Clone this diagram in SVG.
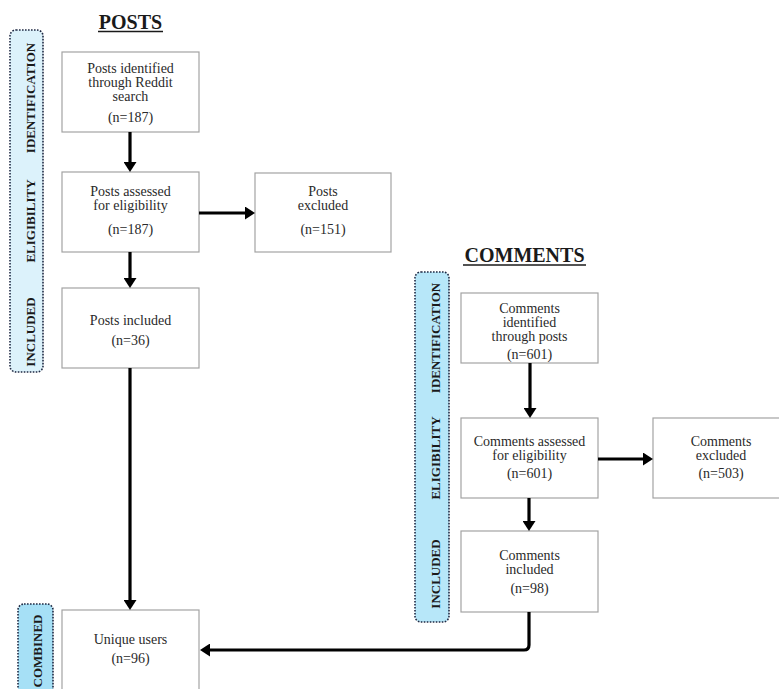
<svg xmlns="http://www.w3.org/2000/svg" width="779" height="689" viewBox="0 0 779 689">
<style>
.bg{fill:#ffffff}
.box{fill:#ffffff;stroke:#a3a3a3;stroke-width:1.2}
.band{stroke:#1f2a44;stroke-width:1.6;stroke-dasharray:1.6 1.4}
.t{font-family:"Liberation Serif","Times New Roman",serif;font-size:14px;fill:#2a2a2a;text-anchor:middle}
.lab{font-family:"Liberation Serif","Times New Roman",serif;font-size:13px;font-weight:bold;fill:#1a1a1a;text-anchor:middle}
.title{font-family:"Liberation Serif","Times New Roman",serif;font-size:20px;font-weight:bold;fill:#1a1a1a;text-anchor:middle}
.ul{stroke:#1a1a1a;stroke-width:1.5}
.con{fill:none;stroke:#000;stroke-width:3.2}
</style>
<defs>
<marker id="ah" viewBox="0 0 10 13" refX="3" refY="6.5" markerWidth="10" markerHeight="13" markerUnits="userSpaceOnUse" orient="auto">
<path d="M0,0 L10,6.5 L0,13 z" fill="#000"/>
</marker>
</defs>
<rect class="bg" x="0" y="0" width="779" height="689"/>

<g id="title-posts">
<text class="title" x="130.5" y="29">POSTS</text>
<line class="ul" x1="98" y1="31.5" x2="163" y2="31.5"/>
</g>
<g id="title-comments">
<text class="title" x="524.5" y="262">COMMENTS</text>
<line class="ul" x1="463" y1="265" x2="586" y2="265"/>
</g>

<g id="band-posts">
<rect class="band" x="10" y="30" width="33" height="342" rx="6" fill="#dcf2fb"/>
<text class="lab" transform="translate(35,98) rotate(-90)">IDENTIFICATION</text>
<text class="lab" transform="translate(35,221) rotate(-90)">ELIGIBILITY</text>
<text class="lab" transform="translate(35,332) rotate(-90)">INCLUDED</text>
</g>
<g id="band-comments">
<rect class="band" x="415" y="272" width="34" height="350" rx="6" fill="#b7e7f9"/>
<text class="lab" transform="translate(440,338) rotate(-90)">IDENTIFICATION</text>
<text class="lab" transform="translate(440,458) rotate(-90)">ELIGIBILITY</text>
<text class="lab" transform="translate(440,574) rotate(-90)">INCLUDED</text>
</g>
<g id="band-combined">
<rect class="band" x="18" y="604" width="35" height="110" rx="6" fill="#a6e0f6"/>
<text class="lab" transform="translate(42,651) rotate(-90)">COMBINED</text>
</g>

<g id="posts-identified">
<rect class="box" x="62" y="52" width="137" height="80"/>
<text class="t" x="130.5" y="73">Posts identified</text>
<text class="t" x="130.5" y="87">through Reddit</text>
<text class="t" x="130.5" y="101">search</text>
<text class="t" x="130.5" y="122">(n=187)</text>
</g>
<g id="posts-assessed">
<rect class="box" x="62" y="172" width="137" height="80"/>
<text class="t" x="130.5" y="196">Posts assessed</text>
<text class="t" x="130.5" y="210">for eligibility</text>
<text class="t" x="130.5" y="234">(n=187)</text>
</g>
<g id="posts-excluded">
<rect class="box" x="255" y="173" width="136" height="79"/>
<text class="t" x="323" y="196">Posts</text>
<text class="t" x="323" y="210">excluded</text>
<text class="t" x="323" y="234">(n=151)</text>
</g>
<g id="posts-included">
<rect class="box" x="62" y="288" width="137" height="80"/>
<text class="t" x="130.5" y="325">Posts included</text>
<text class="t" x="130.5" y="345">(n=36)</text>
</g>
<g id="unique-users">
<rect class="box" x="62" y="610" width="137" height="100"/>
<text class="t" x="130.5" y="644">Unique users</text>
<text class="t" x="130.5" y="663">(n=96)</text>
</g>

<g id="comments-identified">
<rect class="box" x="461" y="293" width="137" height="70"/>
<text class="t" x="529.5" y="313">Comments</text>
<text class="t" x="529.5" y="327">identified</text>
<text class="t" x="529.5" y="341">through posts</text>
<text class="t" x="529.5" y="359">(n=601)</text>
</g>
<g id="comments-assessed">
<rect class="box" x="461" y="418" width="137" height="80"/>
<text class="t" x="529.5" y="446">Comments assessed</text>
<text class="t" x="529.5" y="460">for eligibility</text>
<text class="t" x="529.5" y="478">(n=601)</text>
</g>
<g id="comments-excluded">
<rect class="box" x="653" y="418" width="136" height="80"/>
<text class="t" x="721" y="446">Comments</text>
<text class="t" x="721" y="460">excluded</text>
<text class="t" x="721" y="478">(n=503)</text>
</g>
<g id="comments-included">
<rect class="box" x="461" y="531" width="137" height="81"/>
<text class="t" x="529.5" y="560">Comments</text>
<text class="t" x="529.5" y="574">included</text>
<text class="t" x="529.5" y="593">(n=98)</text>
</g>

<g id="connectors">
<path class="con" d="M130,132 V165" marker-end="url(#ah)"/>
<path class="con" d="M199,213 H248" marker-end="url(#ah)"/>
<path class="con" d="M130,252 V281" marker-end="url(#ah)"/>
<path class="con" d="M130,368 V603" marker-end="url(#ah)"/>
<path class="con" d="M530,363 V411" marker-end="url(#ah)"/>
<path class="con" d="M598,459 H646" marker-end="url(#ah)"/>
<path class="con" d="M529,498 V524" marker-end="url(#ah)"/>
<path class="con" d="M529,612 V645 Q529,650 524,650 H207" marker-end="url(#ah)"/>
</g>
</svg>
